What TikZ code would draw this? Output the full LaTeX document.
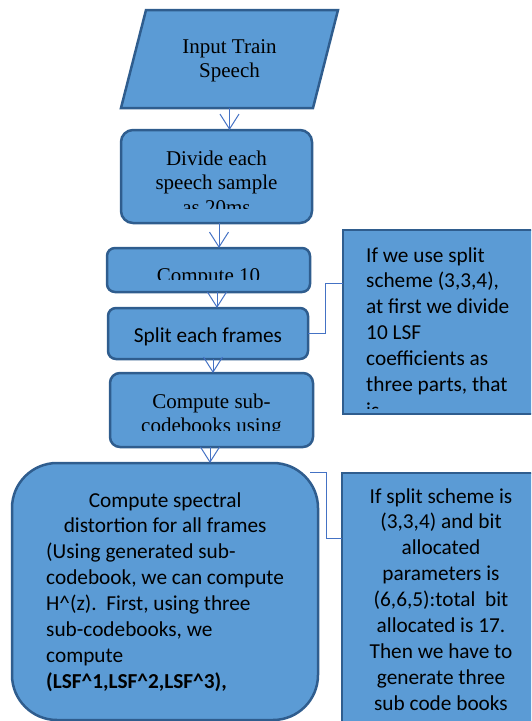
\documentclass[tikz,border=0pt]{standalone}
\usepackage{fontspec}
\setmainfont{Liberation Serif}
\newfontfamily\calib{Carlito}
\usetikzlibrary{arrows.meta}
\definecolor{boxfill}{HTML}{5B9BD5}
\definecolor{boxline}{HTML}{2F5D8E}
\definecolor{linkblue}{HTML}{4472C4}

\begin{document}
\begin{tikzpicture}[x=1pt,y=-1pt,
  box/.style={draw=boxline, fill=boxfill, line width=2.5pt, inner sep=0pt, outer sep=0pt},
  serif/.style={font=\fontsize{21}{24.5}\selectfont, align=center, anchor=base, inner sep=0pt},
  sans/.style={font=\calib\fontsize{21.3}{25.9}\selectfont, inner sep=0pt, anchor=base},
  arr/.style={draw=linkblue, line width=1pt, -{Straight Barb[length=15pt,width=19pt]}},
  conn/.style={draw=linkblue, line width=1pt}]
\useasboundingbox (0,0) rectangle (531,721);
\clip (0,0) rectangle (531,721);

% input parallelogram
\draw[box] (146,10) -- (338,10) -- (313,108) -- (121,108) -- cycle;
\node[inner sep=0pt, minimum width=217pt, minimum height=98pt] (p) at (229.5,59) {};

% process boxes
\node[box, rounded corners=12pt, minimum width=191pt, minimum height=93pt] (b2) at (216.5,176.5) {};
\node[box, rounded corners=8pt, minimum width=203pt, minimum height=44pt] (b3) at (208.5,270) {};
\node[box, rounded corners=8pt, minimum width=200pt, minimum height=51pt] (b4) at (208,333.5) {};
\node[box, rounded corners=10pt, minimum width=203pt, minimum height=74pt] (b5) at (211.5,410) {};
\node[box, rounded corners=45pt, minimum width=306pt, minimum height=257pt] (b6) at (165,591.5) {};

% callout boxes
\node[box, minimum width=217pt, minimum height=184pt] (c1) at (451.5,322) {};
\node[box, minimum width=218pt, minimum height=267pt] (c2) at (451,606.5) {};

% texts (a multi-line node's base anchor sits on its last line)
\node[serif] (tp) at (229.5,77.5) {Input Train\\Speech};
\begin{scope}
  \clip (121,130) rectangle (312,208);
  \node[serif] (t2) at (216.5,214) {Divide each\\speech sample\\as 20ms};
\end{scope}
\begin{scope}
  \clip (107,248) rectangle (310,279);
  \node[serif] (t3) at (208.5,282.5) {Compute 10};
\end{scope}
\node[sans] (t4) at (208,342) {Split each frames};
\begin{scope}
  \clip (110,373) rectangle (313,430.5);
  \node[serif] (t5) at (211.5,432.5) {Compute sub-\\codebooks using};
\end{scope}
\node[sans, anchor=base west, align=left] (t6) at (46,688.3)
  {\makebox[238pt]{Compute spectral}\\
   \makebox[238pt]{distortion for all frames}\\
   (Using generated sub-\\
   codebook, we can compute\\
   H\textasciicircum(z).\ \ First, using three\\
   sub-codebooks, we\\
   compute\\
   \textbf{(LSF\textasciicircum1,LSF\textasciicircum2,LSF\textasciicircum3),}};
\begin{scope}
  \clip (343,230) rectangle (531,408);
  \node[sans, anchor=base west, align=left] (tc1) at (366,417.4)
    {If we use split\\scheme (3,3,4),\\at first we divide\\10 LSF\\coefficients as\\three parts, that\\is};
\end{scope}
\node[sans, align=center] (tc2) at (441,710.2)
  {If split scheme is\\(3,3,4) and bit\\allocated\\parameters is\\(6,6,5):total\ \ bit\\allocated is 17.\\Then we have to\\generate three\\sub code books};

% flow arrows
\draw[arr] (p.south) -- (p.south |- b2.north);
\draw[arr] ([xshift=2.5pt]b2.south) -- ([xshift=2.5pt]b2.south |- b3.north);
\draw[arr] ([xshift=8.5pt]b3.south) -- ([xshift=8.5pt]b3.south |- b4.north);
\draw[arr] ([xshift=5pt]b4.south) -- ([xshift=5pt]b4.south |- b5.north);
\draw[arr] ([xshift=-1.5pt]b5.south) -- ([xshift=-1.5pt]b5.south |- b6.north);

% callout leaders
\draw[conn] (b4.east) -- ++(17,0) |- ([yshift=39pt]c1.west);
\draw[conn] ([xshift=-8pt,yshift=-9.5pt]b6.north east) -- ++(16,0) |- ([yshift=68.5pt]c2.west);
\end{tikzpicture}
\end{document}
